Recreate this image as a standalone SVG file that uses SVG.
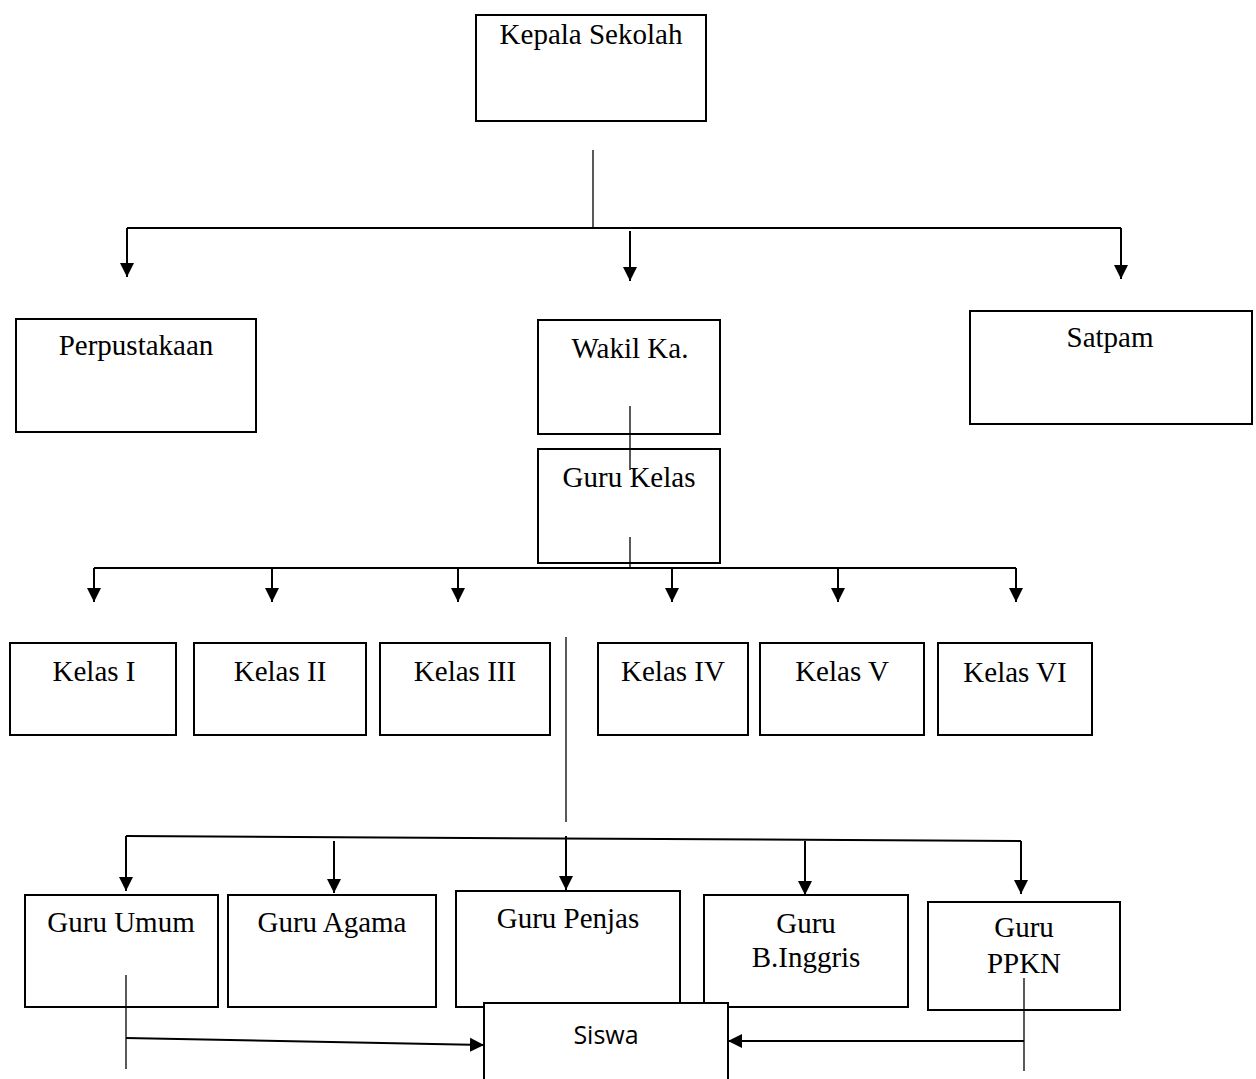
<svg xmlns="http://www.w3.org/2000/svg" width="1256" height="1079" viewBox="0 0 1256 1079">
<defs>
<style>
.box{fill:#fff;stroke:#000;stroke-width:2}
.t{font-family:"Liberation Serif","Times New Roman",serif;font-size:29px;text-anchor:middle;fill:#000}
.s{font-family:"Open Sans","Liberation Sans",Arial,sans-serif;font-size:25px;text-anchor:middle;fill:#000}
.ln{fill:none;stroke:#000;stroke-width:2}
.thin{fill:none;stroke:#000;stroke-width:1.3}
.ar{fill:none;stroke:#000;stroke-width:2;marker-end:url(#ah)}
</style>
<marker id="ah" markerUnits="userSpaceOnUse" markerWidth="14" markerHeight="16" viewBox="0 0 14 16" refX="14" refY="8" orient="auto">
<path d="M0,1 L14,8 L0,15 Z" fill="#000"/>
</marker>
</defs>
<rect width="1256" height="1079" fill="#fff"/>
<g id="connectors">
<line class="thin" x1="593" y1="150" x2="593" y2="228"/>
<line class="ln" x1="127" y1="228" x2="1121" y2="228"/>
<line class="ar" x1="127" y1="228" x2="127" y2="277"/>
<line class="ar" x1="630" y1="231" x2="630" y2="281"/>
<line class="ar" x1="1121" y1="228" x2="1121" y2="279"/>
<line class="ln" x1="94" y1="568" x2="1016" y2="568"/>
<line class="ar" x1="94" y1="568" x2="94" y2="602"/>
<line class="ar" x1="272" y1="568" x2="272" y2="602"/>
<line class="ar" x1="458" y1="568" x2="458" y2="602"/>
<line class="ar" x1="672" y1="568" x2="672" y2="602"/>
<line class="ar" x1="838" y1="568" x2="838" y2="602"/>
<line class="ar" x1="1016" y1="568" x2="1016" y2="602"/>
<line class="thin" x1="566" y1="637" x2="566" y2="822"/>
<line class="ln" x1="126" y1="836" x2="1021" y2="841"/>
<line class="ar" x1="126" y1="836" x2="126" y2="891"/>
<line class="ar" x1="334" y1="841" x2="334" y2="893"/>
<line class="ar" x1="566" y1="836" x2="566" y2="890"/>
<line class="ar" x1="805" y1="841" x2="805" y2="895"/>
<line class="ar" x1="1021" y1="841" x2="1021" y2="894"/>
</g>
<g id="kepala"><rect class="box" x="476" y="15" width="230" height="106"/><text class="t" x="591" y="44">Kepala Sekolah</text></g>
<g id="perpustakaan"><rect class="box" x="16" y="319" width="240" height="113"/><text class="t" x="136" y="355">Perpustakaan</text></g>
<g id="wakil"><rect class="box" x="538" y="320" width="182" height="114"/><text class="t" x="630" y="358">Wakil Ka.</text></g>
<g id="satpam"><rect class="box" x="970" y="311" width="282" height="113"/><text class="t" x="1110" y="347">Satpam</text></g>
<g id="gurukelas"><rect class="box" x="538" y="449" width="182" height="114"/><text class="t" x="629" y="487">Guru Kelas</text></g>
<g id="wakil-guru-link"><line class="thin" x1="630" y1="406" x2="630" y2="470"/><line class="thin" x1="630" y1="537" x2="630" y2="568"/></g>
<g id="kelas1"><rect class="box" x="10" y="643" width="166" height="92"/><text class="t" x="94" y="681">Kelas I</text></g>
<g id="kelas2"><rect class="box" x="194" y="643" width="172" height="92"/><text class="t" x="280" y="681">Kelas II</text></g>
<g id="kelas3"><rect class="box" x="380" y="643" width="170" height="92"/><text class="t" x="465" y="681">Kelas III</text></g>
<g id="kelas4"><rect class="box" x="598" y="643" width="150" height="92"/><text class="t" x="673" y="681">Kelas IV</text></g>
<g id="kelas5"><rect class="box" x="760" y="643" width="164" height="92"/><text class="t" x="842" y="681">Kelas V</text></g>
<g id="kelas6"><rect class="box" x="938" y="643" width="154" height="92"/><text class="t" x="1015" y="682">Kelas VI</text></g>
<g id="guruumum"><rect class="box" x="25" y="895" width="193" height="112"/><text class="t" x="121" y="932">Guru Umum</text></g>
<g id="guruagama"><rect class="box" x="228" y="895" width="208" height="112"/><text class="t" x="332" y="932">Guru Agama</text></g>
<g id="gurupenjas"><rect class="box" x="456" y="891" width="224" height="116"/><text class="t" x="568" y="928">Guru Penjas</text></g>
<g id="guruinggris"><rect class="box" x="704" y="895" width="204" height="112"/><text class="t" x="806" y="933">Guru</text><text class="t" x="806" y="967">B.Inggris</text></g>
<g id="guruppkn"><rect class="box" x="928" y="902" width="192" height="108"/><text class="t" x="1024" y="937">Guru</text><text class="t" x="1024" y="973">PPKN</text></g>
<g id="siswa"><rect class="box" x="484" y="1003" width="244" height="90"/><text class="s" x="606" y="1044">Siswa</text></g>
<g id="siswa-connectors">
<line class="thin" x1="126" y1="975" x2="126" y2="1069"/>
<line class="ar" x1="126" y1="1038" x2="484" y2="1045"/>
<line class="thin" x1="1024" y1="978" x2="1024" y2="1071"/>
<line class="ar" x1="1024" y1="1041" x2="728" y2="1041"/>
</g>
</svg>
